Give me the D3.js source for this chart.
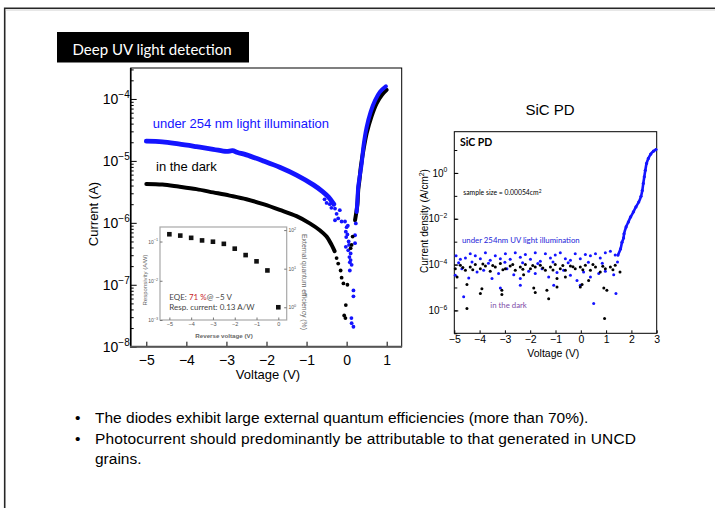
<!DOCTYPE html>
<html>
<head>
<meta charset="utf-8">
<script src="https://cdn.jsdelivr.net/npm/d3@7"></script>
<style>
  body { margin: 0; background: #fff; }
  svg { display: block; }
</style>
</head>
<body>
<div id="chart"></div>
<script>
/* Deep UV light detection slide: UNCD diode I-V, inset EQE, SiC PD reference */

// ---- main I-V chart, [voltage (V), current (A)]
const darkCurve = [
  [-5.0, 4.25e-6], [-4.6, 4.15e-6], [-4.2, 3.85e-6], [-3.75, 3.5e-6], [-3.33, 3.1e-6],
  [-2.92, 2.75e-6], [-2.5, 2.4e-6], [-2.08, 2.0e-6], [-1.67, 1.62e-6], [-1.25, 1.28e-6],
  [-0.92, 9.8e-7], [-0.67, 7.6e-7], [-0.5, 6.0e-7], [-0.375, 4.4e-7], [-0.3, 3.5e-7]
];
const darkScatter = [
  [-0.25, 2.7e-7], [-0.21, 2.2e-7], [-0.15, 1.7e-7], [-0.125, 1.3e-7], [-0.08, 1.05e-7],
  [0.02, 1.0e-7], [-0.02, 4.7e-8], [-0.06, 3.2e-8], [-0.03, 2.9e-8], [0.125, 4.4e-7],
  [0.1, 3.9e-7], [0.15, 6.0e-7]
];
const darkForward = [
  [0.21, 1.1e-6], [0.25, 1.6e-6], [0.27, 2.0e-6], [0.29, 3.4e-6], [0.32, 4.9e-6],
  [0.36, 8.5e-6], [0.42, 1.5e-5], [0.5, 2.8e-5], [0.62, 5.2e-5], [0.75, 8.5e-5],
  [0.875, 1.15e-4], [1.0, 1.4e-4]
];
const lightCurve = [
  [-5.0, 2.08e-5], [-4.6, 2.03e-5], [-4.2, 1.88e-5], [-3.75, 1.7e-5], [-3.33, 1.54e-5],
  [-3.0, 1.42e-5], [-2.85, 1.46e-5], [-2.72, 1.37e-5], [-2.5, 1.25e-5], [-2.08, 1.0e-5],
  [-1.67, 7.9e-6], [-1.25, 5.9e-6], [-0.83, 4.1e-6], [-0.6, 3.2e-6], [-0.45, 2.6e-6],
  [-0.32, 2.0e-6]
];
const lightScatter = [
  [-0.55, 2.4e-6], [-0.5, 2.1e-6], [-0.42, 2.0e-6], [-0.38, 1.75e-6], [-0.29, 1.7e-6],
  [-0.25, 1.4e-6], [-0.29, 1.1e-6], [-0.21, 1.18e-6], [-0.17, 1.6e-6], [-0.125, 1.05e-6],
  [-0.04, 1.05e-6], [-0.02, 7.2e-7], [0.0, 8.5e-7], [0.03, 9.0e-7], [-0.01, 5.9e-7],
  [0.02, 6.5e-7], [-0.02, 4.1e-7], [0.05, 5.0e-7], [0.04, 3.6e-7], [0.06, 4.4e-7],
  [0.07, 2.8e-7], [0.1, 3.2e-7], [0.08, 2.3e-7], [0.1, 2.5e-7], [0.125, 2.1e-7],
  [0.08, 1.7e-7], [0.17, 8.1e-8], [0.17, 6.5e-8], [0.125, 2.4e-8], [0.17, 2.1e-8],
  [0.12, 2.9e-8], [0.21, 4.7e-7], [0.21, 6.3e-7], [0.23, 9.8e-7]
];
const lightForward = [
  [0.25, 1.5e-6], [0.27, 2.3e-6], [0.29, 3.8e-6], [0.33, 5.8e-6], [0.375, 9e-6],
  [0.42, 1.7e-5], [0.5, 3.5e-5], [0.6, 6.2e-5], [0.71, 9.5e-5], [0.83, 1.3e-4],
  [0.98, 1.6e-4]
];
const mainXTicks = [-5, -4, -3, -2, -1, 0, 1];
const mainYTicks = [1e-8, 1e-7, 1e-6, 1e-5, 1e-4];

// ---- inset: EQE (%) against reverse voltage
const insetVolts = [-5, -4.5, -4, -3.5, -3, -2.5, -2, -1.5, -1, -0.5, 0];
const insetEQE = [78, 72, 63, 54, 50, 44, 33, 22.5, 15.5, 9, 1.0];
const insetXTicks = [-5, -4, -3, -2, -1, 0];
const insetRespTicks = [1e-3, 1e-2, 1e-1];
const insetEqeTicks = [1, 10, 100];

// ---- SiC PD, [voltage (V), current density (A/cm2)]
const sicLight = [
  [-4.93, 2.4e-4], [-4.76, 1.7e-4], [-4.56, 1.95e-4], [-4.37, 3.0e-4], [-4.17, 2.4e-4],
  [-3.97, 1.8e-4], [-3.77, 3.3e-4], [-3.58, 1.55e-4], [-3.38, 2.4e-4], [-3.18, 1.8e-4],
  [-2.98, 3.0e-4], [-2.79, 1.7e-4], [-2.59, 3.3e-4], [-2.39, 2.1e-4], [-2.19, 2.75e-4],
  [-1.99, 1.7e-4], [-1.80, 3.3e-4], [-1.60, 1.4e-4], [-1.40, 3.0e-4], [-1.20, 1.95e-4],
  [-1.01, 2.6e-4], [-0.81, 3.3e-4], [-0.61, 1.8e-4], [-0.41, 1.55e-4], [-0.22, 3.0e-4],
  [-0.02, 1.8e-4], [0.18, 2.75e-4], [0.38, 2.4e-4], [0.58, 3.0e-4], [0.77, 1.95e-4],
  [0.97, 3.3e-4], [1.17, 3.8e-4], [1.36, 2.6e-4],
  [-4.83, 1.2e-4], [-4.3, 1.3e-4], [-3.65, 1.15e-4], [-3.0, 1.25e-4], [-2.3, 1.2e-4],
  [-1.7, 1.1e-4], [-1.1, 1.3e-4], [-0.5, 1.2e-4], [0.3, 1.25e-4], [0.85, 1.15e-4],
  [1.45, 1.3e-4],
  [-4.96, 3.4e-5], [-4.70, 6.6e-5], [-4.43, 2.6e-5], [-4.10, 4.8e-5], [-3.84, 5.6e-5],
  [-3.51, 2.45e-5], [-3.25, 4.1e-5], [-2.92, 6.6e-5], [-2.65, 3.6e-5], [-2.39, 2.45e-5],
  [-2.06, 5.1e-5], [-1.80, 4.1e-5], [-1.53, 6.6e-5], [-1.27, 2.9e-5], [-0.94, 4.5e-5],
  [-0.68, 5.6e-5], [-0.41, 3.4e-5], [-0.15, 2.0e-5], [0.11, 4.8e-5], [0.38, 2.9e-5],
  [0.71, 4.1e-5], [0.97, 5.1e-5], [1.30, 3.6e-5],
  [-4.63, 3.9e-6], [-3.18, 9.5e-6], [-2.39, 1.25e-5], [-1.07, 1.25e-5], [-0.02, 1.25e-5],
  [0.51, 2.0e-6], [1.39, 5.4e-6]
];
const sicDark = [
  [-4.96, 6.6e-5], [-4.76, 9.3e-5], [-4.56, 5.6e-5], [-4.37, 7.9e-5], [-4.17, 1.0e-4],
  [-3.97, 6.6e-5], [-3.77, 8.7e-5], [-3.58, 5.1e-5], [-3.38, 7.9e-5], [-3.18, 1.1e-4],
  [-2.98, 6.6e-5], [-2.79, 8.7e-5], [-2.59, 5.6e-5], [-2.39, 7.9e-5], [-2.19, 1.0e-4],
  [-1.99, 6.6e-5], [-1.80, 7.9e-5], [-1.60, 9.3e-5], [-1.40, 5.6e-5], [-1.20, 7.9e-5],
  [-1.01, 1.0e-4], [-0.81, 6.6e-5], [-0.61, 5.6e-5], [-0.41, 8.7e-5], [-0.22, 6.6e-5],
  [-0.02, 7.9e-5], [0.18, 9.3e-5], [0.38, 5.6e-5], [0.58, 7.9e-5], [0.77, 4.8e-5],
  [0.97, 6.6e-5], [1.17, 7.9e-5], [1.36, 9.3e-5], [1.55, 4.8e-5],
  [-4.66, 7.5e-5], [-4.27, 6.0e-5], [-3.87, 1.05e-4], [-3.48, 9.0e-5], [-3.08, 6.0e-5],
  [-2.69, 1.0e-4], [-2.29, 6.2e-5], [-1.9, 9.0e-5], [-1.5, 7.0e-5], [-1.1, 5.8e-5],
  [-0.71, 9.2e-5], [-0.31, 8.0e-5], [0.08, 6.0e-5], [0.48, 1.0e-4], [0.87, 8.5e-5],
  [1.27, 6.0e-5],
  [-4.89, 2.9e-5], [-4.50, 1.35e-5], [-3.91, 8.9e-6], [-3.97, 5.4e-6], [-3.12, 7.6e-6],
  [-3.12, 4.9e-6], [-2.26, 3.6e-5], [-1.86, 9.5e-6], [-1.80, 6.0e-6], [-1.34, 7.6e-6],
  [-1.27, 3.2e-6], [-0.94, 2.45e-5], [-0.94, 1.05e-5], [-0.61, 2.9e-5], [-0.02, 1.05e-5],
  [0.05, 1.35e-5], [0.31, 2.0e-5], [0.91, 9.5e-6], [1.03, 7.6e-6], [-4.50, 1.2e-6],
  [0.94, 4.4e-7]
];
const sicForward = [
  [1.47, 2.6e-4], [1.57, 4.8e-4], [1.63, 9.5e-4], [1.69, 1.45e-3], [1.71, 2.2e-3],
  [1.79, 4.4e-3], [1.88, 7.2e-3], [1.97, 1.2e-2], [2.08, 2.0e-2], [2.18, 3.3e-2],
  [2.29, 5.4e-2], [2.38, 9.5e-2], [2.43, 0.17], [2.47, 0.35], [2.51, 0.68],
  [2.55, 1.3], [2.6, 2.6], [2.67, 4.3], [2.76, 6.6], [2.87, 8.9], [2.97, 10.5]
];
const sicXTicks = [-5, -4, -3, -2, -1, 0, 1, 2, 3];
const sicYTicks = [1e-6, 1e-4, 1e-2, 1];

const bulletText = [
  "The diodes exhibit large external quantum efficiencies (more than 70%).",
  "Photocurrent should predominantly be attributable to that generated in UNCD",
  "grains."
];

const width = 715, height = 508;
const sans = "'Liberation Sans', Arial, sans-serif";
const cal = "Lato, 'Open Sans', sans-serif";
const blue = "#1414ff";
const intFmt = d3.format("d");

const svg = d3.select("#chart").append("svg")
  .attr("width", width)
  .attr("height", height)
  .attr("viewBox", [0, 0, width, height]);

svg.append("rect").attr("width", width).attr("height", height).attr("fill", "#fff");

// slide border, left and top only
svg.append("path").attr("d", "M4.7,508V8.3H715")
  .attr("fill", "none").attr("stroke", "#262626").attr("stroke-width", 1.6);
svg.append("path").attr("d", "M5.6,10H715")
  .attr("fill", "none").attr("stroke", "#d0d0d0").attr("stroke-width", 1);

// title box
svg.append("rect").attr("x", 57).attr("y", 32).attr("width", 192).attr("height", 30.5).attr("fill", "#000");
svg.append("text")
  .attr("x", 72.5).attr("y", 55)
  .attr("fill", "#fff")
  .attr("font-family", cal).attr("font-size", 15)
  .text("Deep UV light detection");

const expo = d => {
  const e = Math.round(Math.log10(d));
  return e < 0 ? "\u2212" + (-e) : String(e);
};
function powLabel(text, d, supSize, rise) {
  text.text(null);
  text.append("tspan").text("10");
  text.append("tspan").attr("dy", -rise).attr("font-size", supSize).text(expo(d));
}

// ================= main chart =================
const mx = d3.scaleLinear().domain([-5.39, 1.375]).range([130.7, 401.7]);
const my = d3.scaleLog().domain([1e-8, Math.pow(10, -3.5)]).range([346.7, 68]);

const minorMain = [];
for (let e = -8; e <= -4; e++) {
  for (let k = 2; k <= 9; k++) {
    const v = k * Math.pow(10, e);
    if (v < Math.pow(10, -3.5)) minorMain.push(v);
  }
}

const gMain = svg.append("g");

gMain.append("g")
  .attr("transform", "translate(130.7,0)")
  .call(d3.axisLeft(my).tickValues(minorMain).tickSize(-3).tickFormat(""))
  .call(g => g.select(".domain").remove());

gMain.append("g")
  .attr("transform", "translate(130.7,0)")
  .call(d3.axisLeft(my).tickValues(mainYTicks).tickSize(-6).tickPadding(1))
  .call(g => g.select(".domain").remove())
  .call(g => g.selectAll("text")
    .attr("font-family", sans).attr("font-size", 14).attr("fill", "#000")
    .each(function(d) { powLabel(d3.select(this), d, 10, 6); }));

gMain.append("g")
  .attr("transform", "translate(0,346.7)")
  .call(d3.axisBottom(mx).tickValues(mainXTicks).tickSize(-5).tickPadding(8).tickFormat(intFmt))
  .call(g => g.select(".domain").remove())
  .call(g => g.selectAll("text").attr("font-family", sans).attr("font-size", 14).attr("fill", "#000"));

gMain.append("rect")
  .attr("x", 130.7).attr("y", 68).attr("width", 271).attr("height", 278.7)
  .attr("fill", "none").attr("stroke", "#000").attr("stroke-width", 1);
gMain.append("line").attr("x1", 130.7).attr("x2", 130.7).attr("y1", 68).attr("y2", 347.5)
  .attr("stroke", "#000").attr("stroke-width", 1.6);
gMain.append("line").attr("x1", 130).attr("x2", 402).attr("y1", 346.7).attr("y2", 346.7)
  .attr("stroke", "#555").attr("stroke-width", 2);

gMain.append("text")
  .attr("x", 268).attr("y", 379)
  .attr("text-anchor", "middle")
  .attr("font-family", sans).attr("font-size", 13)
  .text("Voltage (V)");
gMain.append("text")
  .attr("transform", "translate(97.5,214) rotate(-90)")
  .attr("text-anchor", "middle")
  .attr("font-family", sans).attr("font-size", 13)
  .text("Current (A)");

// ---- inset
const ix = d3.scaleLinear().domain([-5.43, 0.385]).range([160, 286.7]);
const iyL = d3.scaleLog().domain([1e-3, Math.pow(10, -0.63)]).range([320, 227]);
const iyR = d3.scaleLog().domain([Math.pow(10, -0.33), Math.pow(10, 2.08)]).range([320, 227]);

const gIn = svg.append("g").attr("fill", "#555");

gIn.append("rect")
  .attr("x", 160).attr("y", 227).attr("width", 126.7).attr("height", 93)
  .attr("fill", "#fff").attr("stroke", "#a8a8a8").attr("stroke-width", 1.2);

gIn.append("g")
  .attr("transform", "translate(0,320)")
  .call(d3.axisBottom(ix).tickValues(insetXTicks).tickSize(-2.5).tickPadding(1.6).tickFormat(intFmt))
  .call(g => g.select(".domain").remove())
  .call(g => g.selectAll("line").attr("stroke", "#777"))
  .call(g => g.selectAll("text").attr("font-family", sans).attr("font-size", 5.5).attr("fill", "#555"));

gIn.append("g")
  .attr("transform", "translate(160,0)")
  .call(d3.axisLeft(iyL).tickValues(insetRespTicks).tickSize(-2.5).tickPadding(1.8))
  .call(g => g.select(".domain").remove())
  .call(g => g.selectAll("line").attr("stroke", "#777"))
  .call(g => g.selectAll("text").attr("font-family", sans).attr("font-size", 5).attr("fill", "#555")
    .each(function(d) { powLabel(d3.select(this), d, 3.8, 2.2); }));

gIn.append("g")
  .attr("transform", "translate(286.7,0)")
  .call(d3.axisRight(iyR).tickValues(insetEqeTicks).tickSize(-2.5).tickPadding(1.8))
  .call(g => g.select(".domain").remove())
  .call(g => g.selectAll("line").attr("stroke", "#777"))
  .call(g => g.selectAll("text").attr("font-family", sans).attr("font-size", 5).attr("fill", "#555")
    .each(function(d) { powLabel(d3.select(this), d, 3.8, 2.2); }));

gIn.selectAll("rect.sq")
  .data(insetVolts)
  .join("rect")
  .attr("class", "sq")
  .attr("x", d => ix(d) - 2.3)
  .attr("y", (d, i) => iyR(insetEQE[i]) - 2.3)
  .attr("width", 4.6).attr("height", 4.6)
  .attr("fill", "#111");

const eqe = gIn.append("text")
  .attr("x", 169.3).attr("y", 300)
  .attr("font-family", cal).attr("font-size", 8).attr("fill", "#444");
eqe.append("tspan").text("EQE: ");
eqe.append("tspan").attr("fill", "#c8262c").text("71 %");
eqe.append("tspan").text("@ \u22125 V");
gIn.append("text")
  .attr("x", 169.3).attr("y", 310)
  .attr("font-family", cal).attr("font-size", 8).attr("fill", "#444")
  .text("Resp. current: 0.13 A/W");

gIn.append("text")
  .attr("x", 224).attr("y", 338)
  .attr("text-anchor", "middle")
  .attr("font-family", sans).attr("font-size", 6.2).attr("font-weight", "bold").attr("fill", "#666")
  .text("Reverse voltage (V)");
gIn.append("text")
  .attr("transform", "translate(147,280) rotate(-90)")
  .attr("text-anchor", "middle")
  .attr("font-family", sans).attr("font-size", 6).attr("fill", "#666")
  .text("Responsivity (A/W)");
gIn.append("text")
  .attr("transform", "translate(301.5,282) rotate(90)")
  .attr("text-anchor", "middle")
  .attr("font-family", sans).attr("font-size", 6.8).attr("fill", "#666")
  .text("External quantum efficiency (%)");

// ---- curves
const line = d3.line()
  .x(d => mx(d[0]))
  .y(d => my(d[1]))
  .curve(d3.curveCatmullRom);

gMain.append("path")
  .datum(darkForward)
  .attr("d", line)
  .attr("fill", "none").attr("stroke", "#000").attr("stroke-width", 4)
  .attr("stroke-linecap", "round").attr("stroke-linejoin", "round");

gMain.append("path")
  .datum(darkCurve)
  .attr("d", line)
  .attr("fill", "none").attr("stroke", "#000").attr("stroke-width", 4)
  .attr("stroke-linecap", "round").attr("stroke-linejoin", "round");

gMain.append("path")
  .datum(lightCurve)
  .attr("d", line)
  .attr("fill", "none").attr("stroke", blue).attr("stroke-width", 4.8)
  .attr("stroke-linecap", "round").attr("stroke-linejoin", "round");

gMain.append("path")
  .datum(lightForward)
  .attr("d", line)
  .attr("fill", "none").attr("stroke", blue).attr("stroke-width", 4)
  .attr("stroke-linecap", "round").attr("stroke-linejoin", "round");

gMain.selectAll("circle.light")
  .data(lightScatter)
  .join("circle")
  .attr("class", "light")
  .attr("cx", d => mx(d[0]))
  .attr("cy", d => my(d[1]))
  .attr("r", 1.9)
  .attr("fill", blue);

gMain.selectAll("circle.dark")
  .data(darkScatter)
  .join("circle")
  .attr("class", "dark")
  .attr("cx", d => mx(d[0]))
  .attr("cy", d => my(d[1]))
  .attr("r", 1.9)
  .attr("fill", "#000");

gMain.append("text")
  .attr("x", 152.7).attr("y", 128)
  .attr("font-family", sans).attr("font-size", 13).attr("fill", blue)
  .text("under 254 nm light illumination");
gMain.append("text")
  .attr("x", 156).attr("y", 171)
  .attr("font-family", sans).attr("font-size", 13).attr("fill", "#000")
  .text("in the dark");

// ================= SiC PD chart =================
const sx = d3.scaleLinear().domain([-5, 3]).range([454.3, 656.7]);
const sy = d3.scaleLog().domain([1e-7, Math.pow(10, 1.8)]).range([333.3, 131.7]);

const gSic = svg.append("g");

gSic.append("text")
  .attr("x", 550).attr("y", 115)
  .attr("text-anchor", "middle")
  .attr("font-family", sans).attr("font-size", 15)
  .text("SiC PD");

const decades = d3.range(-7, 2).map(e => Math.pow(10, e));

gSic.append("g")
  .attr("transform", "translate(454.3,0)")
  .call(d3.axisLeft(sy).tickValues(decades).tickSize(-3).tickFormat(""))
  .call(g => g.select(".domain").remove());

gSic.append("g")
  .attr("transform", "translate(454.3,0)")
  .call(d3.axisLeft(sy).tickValues(sicYTicks).tickSize(-4).tickPadding(7))
  .call(g => g.select(".domain").remove())
  .call(g => g.selectAll("text")
    .attr("font-family", sans).attr("font-size", 10).attr("fill", "#000")
    .each(function(d) { powLabel(d3.select(this), d, 6.8, 4.5); }));

gSic.append("g")
  .attr("transform", "translate(0,333.3)")
  .call(d3.axisBottom(sx).tickValues(sicXTicks).tickSize(-3).tickPadding(2.3))
  .call(g => g.select(".domain").remove())
  .call(g => g.selectAll("text").attr("font-family", sans).attr("font-size", 10.5).attr("fill", "#000"));

gSic.append("rect")
  .attr("x", 454.3).attr("y", 131.7).attr("width", 202.4).attr("height", 201.6)
  .attr("fill", "none").attr("stroke", "#000").attr("stroke-width", 1);

gSic.append("text")
  .attr("x", 553.3).attr("y", 356.5)
  .attr("text-anchor", "middle")
  .attr("font-family", sans).attr("font-size", 10.5)
  .text("Voltage (V)");

const sYLabel = gSic.append("text")
  .attr("transform", "translate(427.5,221) rotate(-90)")
  .attr("text-anchor", "middle")
  .attr("font-family", sans).attr("font-size", 10);
sYLabel.append("tspan").text("Current density (A/cm");
sYLabel.append("tspan").attr("dy", -4).attr("font-size", 7).text("2");
sYLabel.append("tspan").attr("dy", 4).text(")");

const sLine = d3.line()
  .x(d => sx(d[0]))
  .y(d => sy(d[1]))
  .curve(d3.curveCatmullRom);

gSic.append("path")
  .datum(sicForward)
  .attr("d", sLine)
  .attr("fill", "none").attr("stroke", blue).attr("stroke-width", 2.6)
  .attr("stroke-linecap", "round");

gSic.selectAll("circle.fwd")
  .data(sicForward)
  .join("circle")
  .attr("class", "fwd")
  .attr("cx", d => sx(d[0]))
  .attr("cy", d => sy(d[1]))
  .attr("r", 1.6)
  .attr("fill", blue);

gSic.selectAll("circle.sl")
  .data(sicLight)
  .join("circle")
  .attr("class", "sl")
  .attr("cx", d => sx(d[0]))
  .attr("cy", d => sy(d[1]))
  .attr("r", 1.5)
  .attr("fill", blue);

gSic.selectAll("circle.sd")
  .data(sicDark)
  .join("circle")
  .attr("class", "sd")
  .attr("cx", d => sx(d[0]))
  .attr("cy", d => sy(d[1]))
  .attr("r", 1.5)
  .attr("fill", "#000");

gSic.append("text")
  .attr("x", 460).attr("y", 145.5)
  .attr("font-family", cal).attr("font-size", 10.5).attr("font-weight", "bold")
  .text("SiC PD");

const sample = gSic.append("text")
  .attr("x", 463.3).attr("y", 195)
  .attr("font-family", cal).attr("font-size", 6.8);
sample.append("tspan").text("sample size = 0.00054cm");
sample.append("tspan").attr("dy", -2.5).attr("font-size", 4.8).text("2");

gSic.append("text")
  .attr("x", 462).attr("y", 243.3)
  .attr("font-family", cal).attr("font-size", 7.8).attr("fill", "#2323d8")
  .text("under 254nm UV light illumination");

gSic.append("text")
  .attr("x", 490.3).attr("y", 308.3)
  .attr("font-family", cal).attr("font-size", 7.8).attr("fill", "#7e4ca8")
  .text("in the dark");

// ================= bullets =================
const gText = svg.append("g")
  .attr("font-family", sans).attr("font-size", 15.5).attr("fill", "#000");

const lineY = [423, 444, 464];
gText.selectAll("text.b")
  .data(bulletText)
  .join("text")
  .attr("class", "b")
  .attr("x", 95)
  .attr("y", (d, i) => lineY[i])
  .text(d => d);
// second line is justified in the slide
gText.selectAll("text.b").filter((d, i) => i === 1)
  .attr("textLength", 541).attr("lengthAdjust", "spacing");
gText.selectAll("text.dot")
  .data([0, 1])
  .join("text")
  .attr("class", "dot")
  .attr("x", 75)
  .attr("y", d => lineY[d])
  .text("\u2022");
</script>
</body>
</html>
